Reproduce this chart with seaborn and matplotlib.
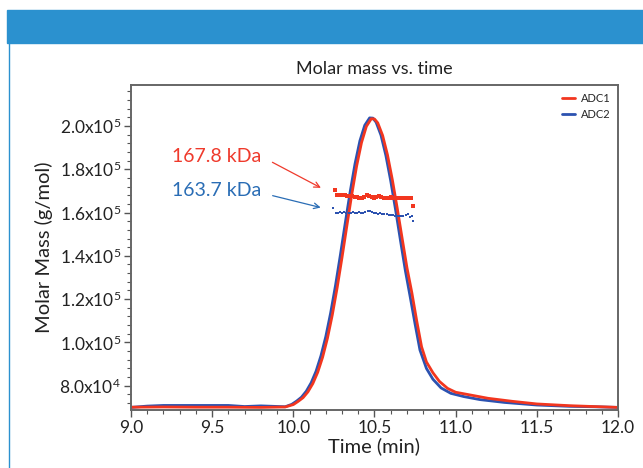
import numpy as np
import pandas as pd
import matplotlib.pyplot as plt
import seaborn as sns
from matplotlib.patches import Rectangle
from matplotlib.lines import Line2D
from matplotlib.ticker import MultipleLocator

# chromatogram trace (scaled onto the molar mass axis)
adc1_time = [9.00, 9.20, 9.40, 9.60, 9.80, 9.95, 10.00, 10.03, 10.06, 10.09,
             10.12, 10.15, 10.18, 10.21, 10.24, 10.27, 10.30, 10.33, 10.36, 10.39,
             10.42, 10.45, 10.48, 10.50, 10.52, 10.55, 10.58, 10.61, 10.64, 10.67,
             10.70, 10.73, 10.76, 10.79, 10.82, 10.86, 10.90, 10.95, 11.00, 11.10,
             11.20, 11.35, 11.50, 11.70, 11.85, 12.00]
adc1_trace = [70100, 70200, 70100, 70100, 70000, 70200, 71300, 72800, 74500, 77200,
              81000, 86200, 93100, 101900, 112700, 125300, 139300, 154000, 168400, 181500,
              192300, 199800, 203300, 203200, 201400, 195600, 186600, 175100, 162000, 148200,
              134500, 123000, 110000, 98000, 91000, 86000, 82000, 78800, 77000, 75600,
              74200, 72800, 71600, 70800, 70400, 70000]

adc2_time = [9.00, 9.10, 9.20, 9.40, 9.60, 9.70, 9.80, 9.95, 9.99, 10.02, 10.05,
             10.08, 10.11, 10.14, 10.17, 10.20, 10.23, 10.26, 10.29, 10.32, 10.35,
             10.38, 10.41, 10.44, 10.47, 10.49, 10.51, 10.54, 10.57, 10.60, 10.63,
             10.66, 10.69, 10.72, 10.75, 10.78, 10.82, 10.86, 10.91, 10.97, 11.05,
             11.15, 11.30, 11.50, 11.70, 11.85, 12.00]
adc2_trace = [70000, 70600, 70900, 70900, 70900, 70400, 70700, 70300, 71400, 72900, 74700,
              77500, 81400, 86700, 93800, 102700, 113700, 126400, 140500, 155200, 169500,
              182500, 193100, 200300, 203700, 203600, 201700, 195700, 186400, 174600, 161200,
              147100, 133200, 121000, 108500, 96500, 88000, 83000, 79000, 76500, 75000,
              73600, 72300, 71100, 70500, 70300, 70000]

# molar mass points
adc1_mm_time = [10.258, 10.272, 10.287, 10.302, 10.317, 10.332, 10.347, 10.362, 10.377,
                10.392, 10.407, 10.422, 10.437, 10.452, 10.467, 10.482, 10.497, 10.512,
                10.527, 10.542, 10.557, 10.572, 10.587, 10.602, 10.617, 10.632, 10.647,
                10.662, 10.677, 10.692, 10.707, 10.722, 10.738]
adc1_mm = [170400, 168300, 168100, 167900, 168000, 167800, 167600, 167700, 167400,
           167100, 166800, 166900, 167300, 167900, 167600, 167200, 166900, 167200,
           167700, 167300, 166900, 166700, 166800, 167000, 166600, 166500, 166800,
           166600, 166500, 166700, 166600, 166800, 162800]

adc2_mm_time = [10.247, 10.262, 10.275, 10.288, 10.301, 10.314, 10.327, 10.340, 10.353,
                10.366, 10.379, 10.392, 10.405, 10.418, 10.431, 10.444, 10.457, 10.470,
                10.483, 10.496, 10.509, 10.522, 10.535, 10.548, 10.561, 10.574, 10.587,
                10.600, 10.613, 10.626, 10.639, 10.652, 10.665, 10.678, 10.691, 10.704,
                10.717, 10.728, 10.736]
adc2_mm = [162100, 160000, 159700, 160200, 159900, 160100, 159800, 160000, 159700,
           160200, 159900, 159800, 160300, 160000, 159900, 160400, 160800, 160500,
           160200, 160000, 159700, 159500, 159800, 159400, 159300, 159100, 159000,
           158900, 158700, 158600, 158400, 158300, 158200, 158500, 158800, 159200,
           157900, 158600, 156200]

y_ticks = [80000, 100000, 120000, 140000, 160000, 180000, 200000]
y_tick_labels = ["8.0x10$^4$", "1.0x10$^5$", "1.2x10$^5$", "1.4x10$^5$",
                 "1.6x10$^5$", "1.8x10$^5$", "2.0x10$^5$"]
x_ticks = [9.0, 9.5, 10.0, 10.5, 11.0, 11.5, 12.0]

RED = "#f2361f"
BLUE = "#2c52b0"
RED_TXT = "#ef3a2c"
BLUE_TXT = "#2a6db5"
HEADER = "#2b91cf"

sns.set_style("white")
plt.rcParams["font.family"] = ["Lato", "DejaVu Sans"]
plt.rcParams["mathtext.default"] = "regular"

trace_df = pd.concat([
    pd.DataFrame({"time": adc2_time, "mm": adc2_trace, "sample": "ADC2"}),
    pd.DataFrame({"time": adc1_time, "mm": adc1_trace, "sample": "ADC1"}),
])

fig = plt.figure(figsize=(6.43, 4.68), dpi=100)

# header band and side border
fig.patches.append(Rectangle((7 / 643, 1 - 43 / 468), 1, 33 / 468,
                             transform=fig.transFigure, color=HEADER, zorder=0))
fig.lines.append(Line2D([9 / 643, 9 / 643], [0, 1 - 43 / 468],
                        transform=fig.transFigure, color=HEADER, lw=1.0))

ax = fig.add_axes([131 / 643, 1 - 410 / 468, 487 / 643, 325 / 468])

sns.lineplot(data=trace_df, x="time", y="mm", hue="sample",
             palette={"ADC1": RED, "ADC2": BLUE}, hue_order=["ADC2", "ADC1"],
             lw=2.0, ax=ax, legend=False, sort=False)

sns.scatterplot(x=adc2_mm_time, y=adc2_mm, color=BLUE, marker="s", s=3,
                linewidth=0, ax=ax, zorder=3)
sns.scatterplot(x=adc1_mm_time, y=adc1_mm, color=RED, marker="s", s=8,
                linewidth=0, ax=ax, zorder=3)

ax.set_xlim(9.0, 12.0)
ax.set_ylim(68800, 218900)
ax.set_xticks(x_ticks)
ax.set_xticklabels([f"{t:.1f}" for t in x_ticks])
ax.set_yticks(y_ticks)
ax.set_yticklabels(y_tick_labels)
ax.xaxis.set_minor_locator(MultipleLocator(0.1))
ax.yaxis.set_minor_locator(MultipleLocator(4000))
ax.tick_params(axis="both", which="major", direction="out", length=5, width=1,
               color="#555555", labelsize=12.5, labelcolor="#222222", pad=2)
ax.tick_params(axis="both", which="minor", direction="out", length=3, width=0.8,
               color="#555555")
ax.tick_params(left=True, bottom=True, which="both")
for sp in ax.spines.values():
    sp.set_color("#666666")
    sp.set_linewidth(1.4)

ax.set_xlabel("Time (min)", fontsize=14.5, color="#222222", labelpad=1)
ax.set_ylabel("Molar Mass (g/mol)", fontsize=14.5, color="#222222", labelpad=5)
ax.set_title("Molar mass vs. time", fontsize=13, color="#222222", pad=8)

# annotations
ax.text(9.805, 185800, "167.8 kDa", color=RED_TXT, fontsize=14, ha="right", va="center")
ax.text(9.805, 170400, "163.7 kDa", color=BLUE_TXT, fontsize=14, ha="right", va="center")
ax.annotate("", xy=(10.185, 170800), xytext=(9.856, 183800),
            arrowprops=dict(arrowstyle="->", color=RED_TXT, lw=0.9))
ax.annotate("", xy=(10.185, 162000), xytext=(9.856, 168100),
            arrowprops=dict(arrowstyle="->", color=BLUE_TXT, lw=0.9))

handles = [Line2D([], [], color=RED, lw=2), Line2D([], [], color=BLUE, lw=2)]
ax.legend(handles, ["ADC1", "ADC2"], loc="upper right", frameon=False,
          fontsize=8, handlelength=1.2, handletextpad=0.5, labelspacing=0.5,
          borderaxespad=0.3)

fig.savefig("out.png", dpi=100)
